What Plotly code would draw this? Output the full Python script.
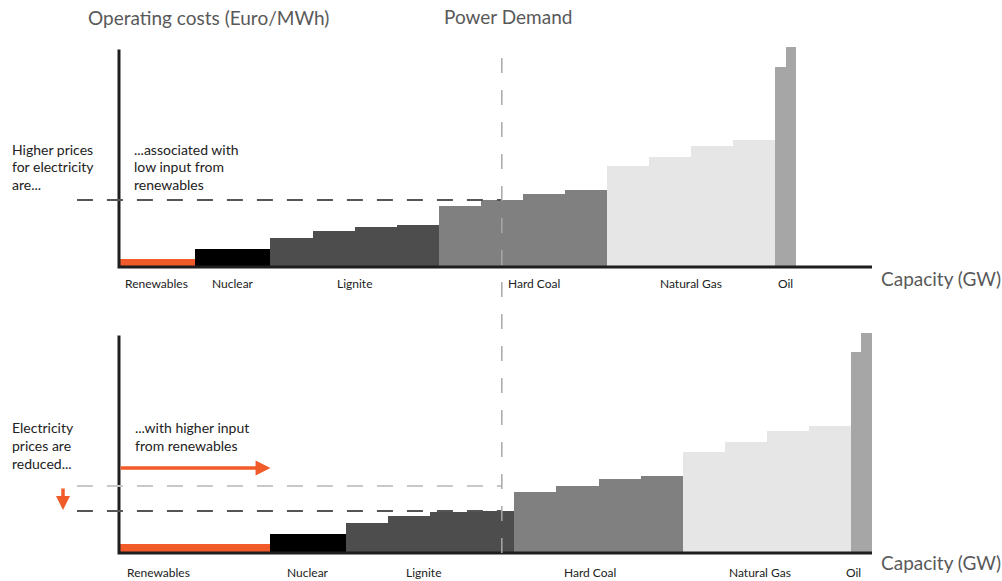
import plotly.graph_objects as go
import numpy as np

W, H = 1002, 581

# ---------------- data ----------------
fuel_names = ["Renewables", "Nuclear", "Lignite", "Hard Coal", "Natural Gas", "Oil"]
fuel_colors = ["#f15a29", "#000000", "#4d4d4d", "#808080", "#e6e6e6", "#a6a6a6"]

# capacity blocks (GW), left to right
renewables_cap_low = [18]
renewables_cap_high = [36]
nuclear_cap = [18]
lignite_cap = [10, 10, 10, 10]
hard_coal_cap = [10, 10, 10, 10]
gas_cap = [10, 10, 10, 10]
oil_cap = [2.5, 2.5]

# operating costs (Euro/MWh)
renewables_cost = [4.25]
nuclear_cost = [9.25]
lignite_cost = [14.75, 18.25, 20.25, 21.0]
hard_coal_cost = [30.5, 33.5, 36.75, 38.5]
gas_cost = [50.5, 55.25, 60.75, 63.5]
oil_cost = [100.25, 110.0]

power_demand_gw = 91.0
capacity_axis_max = 179
cost_axis_max = 108.75

top_left_text = ["Higher prices", "for electricity", "are..."]
top_mid_text = ["...associated with", "low input from", "renewables"]
bottom_left_text = ["Electricity", "prices are", "reduced..."]
bottom_mid_text = ["...with higher input", "from renewables"]

# ---------------- geometry ----------------
X0_PX = 119.0
SX = (872.0 - 119.0) / 179.0
X_RANGE = [-10, 179.6]
SY = 2.0
Y_RANGE = [-2, 110.6]
BASE_PX = [267.0, 553.0]
FONT = "Lato, 'Open Sans', sans-serif"


def xpx(v):
    return X0_PX + SX * v


def ypaper(px):
    return 1 - px / H


xdom = [xpx(X_RANGE[0]) / W, xpx(X_RANGE[1]) / W]


def ydom(base):
    top = base - SY * Y_RANGE[1]
    bot = base - SY * Y_RANGE[0]
    return [ypaper(bot), ypaper(top)]


def merit_order(renew_cap):
    caps = [renew_cap, nuclear_cap, lignite_cap, hard_coal_cap, gas_cap, oil_cap]
    costs = [renewables_cost, nuclear_cost, lignite_cost, hard_coal_cost, gas_cost, oil_cost]
    mids, widths, ys, cols, spans = [], [], [], [], []
    left = 0.0
    for name, col, cl, co in zip(fuel_names, fuel_colors, caps, costs):
        start = left
        for c, v in zip(cl, co):
            mids.append(left + c / 2)
            widths.append(c)
            ys.append(v)
            cols.append(col)
            left += c
        spans.append((name, start, left))
    return mids, widths, ys, cols, spans


def price_at(mids, widths, ys, demand):
    for m, w, y in zip(mids, widths, ys):
        if m - w / 2 <= demand < m + w / 2:
            return y
    return ys[-1]


fig = go.Figure()
annotations = []
shapes = []

panels = [
    dict(cap=renewables_cap_low, xa="x", ya="y", base=BASE_PX[0],
         nudge={"Hard Coal": 2.7}),
    dict(cap=renewables_cap_high, xa="x2", ya="y2", base=BASE_PX[1],
         nudge={"Renewables": -8.7, "Lignite": -1.7, "Hard Coal": -2.0,
                "Natural Gas": -1.6, "Oil": -1.8}),
]

prices = []
for p in panels:
    mids, widths, ys, cols, spans = merit_order(p["cap"])
    prices.append(price_at(mids, widths, ys, power_demand_gw))
    p["spans"] = spans
    fig.add_trace(go.Bar(x=mids, y=ys, width=widths, base=0,
                         marker=dict(color=cols, line=dict(width=0)),
                         xaxis=p["xa"], yaxis=p["ya"], showlegend=False,
                         hoverinfo="skip"))
    # axes lines
    fig.add_trace(go.Scatter(x=[0, 0, capacity_axis_max], y=[cost_axis_max, 0, 0],
                             mode="lines", line=dict(color="#1e1e1e", width=3),
                             xaxis=p["xa"], yaxis=p["ya"], showlegend=False,
                             hoverinfo="skip"))

# dashed price lines
dash = "16px,14px"
fig.add_trace(go.Scatter(x=[X_RANGE[0], power_demand_gw], y=[prices[0], prices[0]],
                         mode="lines", line=dict(color="#555555", width=2, dash=dash),
                         xaxis="x", yaxis="y", showlegend=False, hoverinfo="skip"))
fig.add_trace(go.Scatter(x=[X_RANGE[0], power_demand_gw], y=[prices[0], prices[0]],
                         mode="lines", line=dict(color="#c8c8c8", width=2, dash=dash),
                         xaxis="x2", yaxis="y2", showlegend=False, hoverinfo="skip"))
fig.add_trace(go.Scatter(x=[X_RANGE[0], power_demand_gw], y=[prices[1], prices[1]],
                         mode="lines", line=dict(color="#555555", width=2, dash=dash),
                         xaxis="x2", yaxis="y2", showlegend=False, hoverinfo="skip"))

# power demand vertical line
xd = xpx(power_demand_gw) / W
shapes.append(dict(type="line", xref="paper", yref="paper", x0=xd, x1=xd,
                   y0=ypaper(553), y1=ypaper(50), layer="above",
                   line=dict(color="#a8a8a8", width=1.5, dash="15px,17px")))

# category labels
for p, lab_px in zip(panels, [283, 572]):
    for name, s, e in p["spans"]:
        annotations.append(dict(text=name, xref=p["xa"], yref="paper",
                                x=(s + e) / 2 + p["nudge"].get(name, 0),
                                y=ypaper(lab_px), xanchor="center", yanchor="middle",
                                showarrow=False,
                                font=dict(family=FONT, size=12, color="#222222")))

# titles
title_font = dict(family=FONT, size=19, color="#595959")
annotations.append(dict(text="Operating costs (Euro/MWh)", xref="paper", yref="paper",
                        x=86 / W, y=ypaper(17), xanchor="left", yanchor="middle",
                        showarrow=False, font=title_font))
annotations.append(dict(text="Power Demand", xref="paper", yref="paper",
                        x=442 / W, y=ypaper(16), xanchor="left", yanchor="middle",
                        showarrow=False, font=title_font))
for ypx in [278, 562]:
    annotations.append(dict(text="Capacity (GW)", xref="paper", yref="paper",
                            x=879 / W, y=ypaper(ypx), xanchor="left", yanchor="middle",
                            showarrow=False, font=title_font))

# side texts
side_font = dict(family=FONT, size=14, color="#222222")


def add_lines(lines, xp, ystart):
    for i, t in enumerate(lines):
        annotations.append(dict(text=t, xref="paper", yref="paper", x=xp / W,
                                y=ypaper(ystart + 18 * i), xanchor="left",
                                yanchor="middle", showarrow=False, font=side_font))


add_lines(top_left_text, 10, 149)
add_lines(top_mid_text, 132, 149)
add_lines(bottom_left_text, 10, 427)
add_lines(bottom_mid_text, 133, 427)

# orange arrows
orange = fuel_colors[0]
annotations.append(dict(text="", xref="paper", yref="paper",
                        x=xpx(renewables_cap_high[0]) / W, y=ypaper(468),
                        ax=-(SX * renewables_cap_high[0]), ay=0,
                        showarrow=True, arrowhead=2, arrowsize=0.85, arrowwidth=3.5,
                        arrowcolor=orange))
annotations.append(dict(text="", xref="paper", yref="paper",
                        x=63 / W, y=ypaper(510), ax=0, ay=-23,
                        showarrow=True, arrowhead=2, arrowsize=0.8, arrowwidth=3.5,
                        arrowcolor=orange))

axis_common = dict(visible=False, showgrid=False, zeroline=False, fixedrange=True)
fig.update_layout(
    width=W, height=H,
    margin=dict(l=0, r=0, t=0, b=0),
    paper_bgcolor="white", plot_bgcolor="rgba(0,0,0,0)",
    bargap=0,
    xaxis=dict(domain=xdom, range=X_RANGE, anchor="y", **axis_common),
    yaxis=dict(domain=ydom(BASE_PX[0]), range=Y_RANGE, anchor="x", **axis_common),
    xaxis2=dict(domain=xdom, range=X_RANGE, anchor="y2", **axis_common),
    yaxis2=dict(domain=ydom(BASE_PX[1]), range=Y_RANGE, anchor="x2", **axis_common),
    annotations=annotations,
    shapes=shapes,
    showlegend=False,
)

fig.write_html(
    "out.html",
    config={"displayModeBar": False, "staticPlot": True},
    post_script="document.body.style.margin='0px';document.body.style.padding='0px';"
                "document.documentElement.style.overflow='hidden';",
)
